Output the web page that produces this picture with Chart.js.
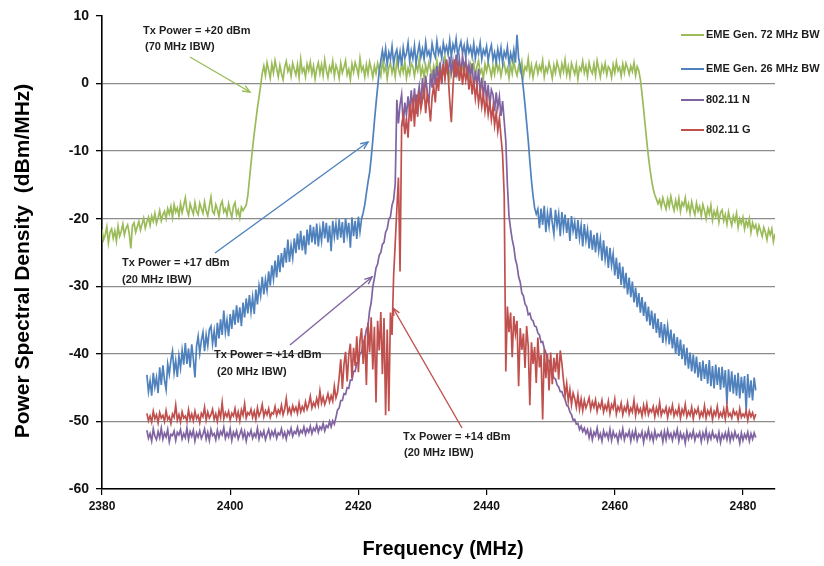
<!DOCTYPE html>
<html>
<head>
<meta charset="utf-8">
<script src="https://cdn.jsdelivr.net/npm/chart.js@4/dist/chart.umd.min.js"></script>
<style>
html,body{margin:0;padding:0;background:#fff;}
canvas{display:block;}
</style>
</head>
<body>
<canvas id="c" width="824" height="566"></canvas>
<script>
// ---------------- DATA ----------------
const X_TICKS = [2380, 2400, 2420, 2440, 2460, 2480];
const Y_TICKS = [10, 0, -10, -20, -30, -40, -50, -60];
const SERIES_NAMES = ['EME Gen. 72 MHz BW', 'EME Gen. 26 MHz BW', '802.11 N', '802.11 G'];
const SAMPLE_STEP = 0.25;     // MHz between samples
const GREEN_START = 2380;     // MHz of first green sample
const OTHER_START = 2387;     // MHz of first sample of the other three traces

// EME Gen. 72 MHz BW (dBm/MHz), 2380 .. 2485 MHz
const eme72 = [
 -21.6,-23.1,-22.4,-21.2,-23.6,-22.0,-21.5,-22.9,-21.8,-23.3,
 -21.1,-22.6,-21.9,-20.8,-22.4,-21.4,-20.9,-22.2,-24.4,-21.0,
 -20.6,-22.0,-21.2,-20.4,-21.7,-20.8,-19.9,-21.4,-20.5,-19.8,
 -21.0,-19.6,-20.4,-19.2,-20.7,-19.9,-18.8,-20.3,-19.4,-18.9,
 -20.0,-18.5,-19.3,-18.2,-19.8,-17.9,-19.0,-18.4,-19.6,-17.8,
 -19.1,-18.0,-16.9,-18.7,-19.5,-17.8,-18.6,-19.3,-17.6,-18.9,
 -19.4,-17.7,-18.5,-19.2,-17.5,-18.8,-19.6,-18.1,-16.8,-18.9,
 -19.3,-17.9,-18.6,-19.7,-18.0,-17.4,-19.0,-18.5,-19.5,-17.8,
 -18.9,-19.8,-18.2,-17.6,-19.4,-18.7,-19.9,-18.3,-18.8,-18.4,
 -18.0,-16.6,-14.2,-11.8,-9.5,-7.4,-5.5,-3.6,-2.0,-0.3,1.5,
 2.6,1.2,3.1,2.0,0.8,2.9,1.6,3.4,2.2,1.0,
 2.7,1.5,0.6,2.4,3.3,1.8,2.5,1.1,3.0,2.1,
 1.3,2.8,0.9,3.6,1.7,2.3,1.0,2.9,1.9,3.2,
 1.4,2.6,0.7,2.2,3.1,1.5,2.8,1.2,3.5,2.0,
 0.9,2.5,1.8,3.3,1.1,2.7,2.0,0.8,3.0,1.6,
 2.4,3.4,1.3,2.1,0.6,2.9,1.7,3.1,2.3,1.2,
 3.7,1.9,2.5,1.0,2.8,1.4,3.2,2.2,0.9,2.6,
 1.5,3.0,2.0,1.1,3.3,1.8,2.6,0.7,2.4,3.1,
 1.6,2.7,1.0,3.5,2.1,1.3,2.9,1.7,3.2,0.8,
 2.3,1.4,3.0,2.5,1.1,2.8,1.9,3.6,1.2,2.4,
 0.9,2.7,1.6,3.1,2.2,1.0,2.6,1.5,3.4,1.8,
 2.9,1.2,2.5,4.1,1.7,2.3,0.8,3.0,1.9,2.6,
 1.3,3.3,2.0,1.1,2.7,1.6,3.2,2.4,0.9,2.8,
 1.7,3.0,1.2,2.5,3.4,1.5,2.1,0.7,2.9,1.8,
 3.1,2.2,1.0,2.6,1.4,3.5,1.9,2.7,1.1,2.4,
 3.0,1.6,2.3,0.8,2.8,1.5,3.3,2.0,1.2,2.6,
 1.8,3.2,1.1,2.5,2.0,3.7,1.4,2.7,0.9,2.2,
 3.0,1.5,2.6,1.9,3.4,1.0,2.4,1.7,3.1,2.1,
 0.8,2.7,1.6,3.2,2.3,1.2,2.9,1.8,3.5,1.3,
 2.5,1.0,3.0,2.2,1.4,2.8,0.7,2.4,1.9,3.3,
 1.6,2.6,1.1,3.1,2.0,1.5,2.9,1.2,3.4,2.2,
 1.0,2.7,1.8,3.0,1.3,2.5,2.1,0.9,2.8,1.6,
 3.2,1.9,2.4,1.1,2.9,1.6,3.0,2.3,1.4,2.6,
 1.8,3.1,1.2,2.5,1.9,
 0.6,-1.5,-3.8,-6.2,-8.6,-10.8,-12.7,-14.3,-15.6,-16.5,-17.1,-17.8,-17.2,
 -18.3,-16.9,-17.8,-18.6,-17.1,-18.2,-16.7,-17.9,-18.8,-17.3,
 -18.4,-17.0,-18.9,-17.6,-18.1,-16.9,-18.7,-17.8,-19.2,-17.5,
 -18.6,-19.4,-17.7,-18.9,-18.2,-19.6,-17.9,-18.8,-20.0,-18.4,
 -19.3,-18.0,-20.2,-18.9,-19.7,-18.6,-20.5,-19.1,-18.7,-20.3,
 -19.4,-20.8,-19.0,-20.1,-21.0,-19.6,-20.4,-19.2,-21.3,-20.0,
 -20.7,-19.8,-21.5,-20.3,-21.1,-20.0,-22.0,-20.6,-21.4,-20.9,
 -22.2,-21.0,-21.8,-22.6,-21.3,-22.0,-23.1,-21.6,-22.4,-21.5,
 -23.4,-22.2
];

// EME Gen. 26 MHz BW, 2387 .. 2482 MHz
const eme26 = [
 -43.1,-45.6,-44.0,-46.2,-42.8,-44.9,-43.5,-45.8,
 -42.0,-44.6,-41.7,-43.9,-45.3,-41.5,-43.0,-40.9,
 -39.6,-42.8,-41.0,-43.4,-40.3,-42.1,-39.5,-41.6,
 -38.4,-41.5,-39.2,-42.0,-38.6,-40.7,-43.5,-38.9,
 -37.4,-39.9,-38.0,-36.8,-39.6,-37.2,-38.8,-36.4,
 -35.9,-38.5,-36.6,-39.0,-35.4,-37.7,-34.9,-37.2,
 -33.6,-36.8,-35.0,-37.4,-34.1,-36.3,-33.5,-35.7,
 -32.8,-35.4,-33.1,-35.9,-32.4,-34.6,-31.8,-34.0,
 -31.3,-33.8,-31.6,-34.1,-30.5,-32.7,-29.9,-31.4,
 -28.6,-31.2,-29.0,-30.6,-27.8,-29.9,-26.9,-28.9,
 -26.2,-28.7,-25.4,-27.9,-25.1,-27.2,-24.3,-26.5,
 -23.1,-26.4,-24.0,-25.8,-22.9,-25.1,-22.2,-24.6,
 -21.8,-24.7,-22.5,-25.3,-21.6,-23.9,-20.9,-23.5,
 -21.2,-23.8,-20.7,-24.1,-21.5,-23.3,-20.4,-22.9,
 -20.6,-23.5,-21.0,-24.8,-20.3,-22.7,-20.8,-23.1,
 -20.1,-22.8,-20.5,-23.6,-19.9,-22.4,-20.6,-24.3,
 -19.8,-22.6,-20.3,-23.0,-19.7,-21.9,-20.0,-19.1,
 -17.9,-16.2,-14.6,-13.2,-11.0,-8.4,-5.6,-3.0,-0.6,1.8,3.4,4.9,
 3.4,5.2,2.8,4.6,3.6,5.5,2.9,4.3,
 5.0,3.1,4.7,2.6,5.3,3.8,4.4,6.0,
 3.3,4.9,3.7,5.6,3.0,4.5,5.8,3.9,
 5.1,3.6,6.1,4.2,4.8,3.5,5.9,4.6,
 3.9,6.3,4.4,5.2,3.8,6.0,4.7,5.5,
 4.3,6.4,4.0,5.8,4.9,6.6,4.1,5.3,
 6.2,4.5,5.6,3.9,6.1,4.6,5.4,4.0,
 5.9,3.7,5.2,4.4,6.0,3.6,5.0,4.3,
 5.5,3.4,4.8,5.7,3.5,4.6,3.2,5.1,
 3.6,5.3,3.0,4.7,3.9,5.4,2.9,4.5,
 3.4,5.0,3.1,7.2,3.8,2.6,
 1.2,-0.8,-3.2,-5.8,-8.4,-11.5,-14.3,-16.6,-18.4,-19.3,-18.6,
 -21.4,-18.5,-20.9,-18.1,-22.0,-19.2,-21.1,-18.4,
 -20.6,-22.3,-18.7,-21.0,-19.3,-22.6,-19.0,-21.5,
 -19.4,-22.1,-20.0,-23.3,-19.6,-21.8,-20.5,-23.0,
 -20.2,-22.9,-21.0,-24.1,-20.8,-23.2,-21.6,-24.4,
 -21.7,-24.6,-22.4,-25.0,-22.1,-24.8,-23.0,-26.2,
 -23.2,-26.0,-24.1,-27.3,-24.3,-26.9,-25.2,-28.4,
 -25.8,-28.9,-26.5,-29.8,-27.1,-30.3,-28.0,-31.2,
 -28.7,-31.6,-29.3,-32.4,-30.2,-33.1,-31.0,-33.9,
 -31.6,-34.4,-32.3,-35.2,-33.0,-35.8,-33.6,-36.3,
 -34.0,-36.9,-34.8,-37.6,-35.3,-38.4,-35.6,-37.9,
 -35.9,-38.6,-36.4,-39.2,-37.0,-40.0,-37.5,-40.3,
 -37.9,-40.8,-38.6,-41.7,-39.1,-42.2,-39.8,-42.6,
 -40.1,-42.9,-40.4,-43.5,-41.2,-44.0,-41.0,-43.7,
 -41.5,-44.4,-40.9,-44.8,-41.8,-45.1,-41.6,-44.6,
 -42.0,-45.3,-41.9,-45.0,-42.4,-47.4,-42.3,-45.6,
 -42.6,-45.9,-43.1,-46.2,-42.8,-46.6,-43.4,-45.8,
 -43.3,-48.3,-43.0,-46.5,-43.9,-46.9,-43.5,-45.4
];

// 802.11 N, 2387 .. 2482 MHz
const wifiN = [
 -51.3,-52.5,-51.8,-52.9,-51.1,-52.2,-52.7,-51.5,-52.4,-51.0,
 -52.6,-51.7,-52.3,-51.2,-53.0,-51.9,-52.1,-51.4,-52.8,-51.6,
 -52.0,-51.2,-52.6,-51.8,-52.4,-51.0,-52.7,-51.5,-52.2,-51.3,
 -52.9,-51.7,-52.3,-51.4,-52.5,-51.9,-51.1,-52.6,-51.6,-52.8,
 -51.2,-52.1,-51.8,-52.7,-51.3,-52.4,-51.5,-52.0,-50.9,-52.5,
 -51.7,-52.3,-51.1,-52.8,-51.6,-52.2,-51.4,-52.6,-51.9,-51.2,
 -52.4,-51.5,-52.9,-51.7,-52.1,-51.3,-52.5,-51.8,-52.3,-51.0,
 -52.6,-51.6,-52.2,-51.4,-52.7,-51.9,-51.2,-52.4,-51.5,-52.1,
 -51.3,-52.5,-51.7,-52.0,-51.1,-52.3,-51.6,-52.6,-51.4,-51.9,
 -51.0,-52.2,-51.5,-51.8,-50.9,-52.0,-51.3,-51.7,-50.8,-51.9,
 -51.1,-51.6,-50.7,-51.8,-51.0,-51.4,-50.5,-51.6,-50.8,-51.2,
 -50.3,-51.4,-50.6,-50.9,-50.0,-50.8,-49.9,-50.4,
 -49.4,-48.3,-48.0,-46.9,-46.9,-45.9,-46.0,-45.0,-45.1,-43.9,
 -43.9,-42.6,-42.6,-41.3,-41.3,-39.9,-39.8,-38.4,-37.8,-36.4,
 -35.8,-33.6,-32.4,-30.1,-28.8,-27.3,-26.7,-25.4,-25.0,-23.8,
 -23.5,-22.0,-21.5,-20.1,-19.7,-18.0,-17.2,-14.8,
 -2.4,-5.9,-3.1,-1.6,-6.3,-2.8,-4.7,-1.9,
 -4.2,-1.0,-3.8,-0.7,-4.5,-2.0,-0.4,-3.2,
 0.8,-2.3,1.2,-1.4,-3.0,1.5,-0.6,2.1,
 -0.2,2.6,0.4,3.1,-0.1,2.9,1.0,3.6,
 1.2,4.0,1.6,3.3,0.9,4.3,1.8,3.7,
 1.5,4.1,2.2,3.4,0.6,2.8,1.1,3.0,
 -0.8,1.9,-0.3,2.2,-1.5,0.9,-2.0,0.4,
 -2.6,-0.2,-3.3,-0.9,-1.6,-4.1,-1.3,-3.6,
 -1.9,-4.8,-2.6,-5.5,
 -8.5,-15.0,-19.6,-21.5,-23.1,-24.2,-26.0,-26.9,-28.6,-29.4,
 -31.0,-31.4,-32.6,-33.0,-34.2,-34.0,-34.9,-35.1,-35.9,-36.0,
 -36.9,-37.2,-38.3,-38.2,-39.2,-39.8,-40.9,-41.0,-42.0,-42.6,
 -43.6,-43.7,-44.6,-44.9,-45.6,-45.6,-46.3,-46.7,-47.6,-47.8,
 -48.6,-49.0,-49.8,-49.7,-50.4,-50.3,-51.2,-50.7,-51.5,-51.0,
 -51.8,-51.2,
 -52.4,-51.3,-52.7,-51.6,-52.1,-51.0,-52.5,-51.8,-52.9,-51.4,
 -52.2,-51.7,-52.6,-51.2,-52.8,-51.5,-52.3,-51.9,-53.0,-51.6,
 -52.4,-51.1,-52.7,-51.8,-52.2,-51.4,-52.9,-51.6,-52.5,-51.3,
 -52.8,-51.9,-52.3,-51.5,-53.1,-51.7,-52.4,-51.2,-52.6,-51.8,
 -52.9,-51.4,-52.5,-51.9,-52.2,-51.6,-53.0,-51.5,-52.7,-51.3,
 -52.4,-51.8,-52.8,-51.6,-52.3,-51.2,-52.9,-51.7,-52.5,-51.9,
 -53.2,-51.5,-52.6,-51.8,-52.4,-51.4,-52.8,-51.9,-52.3,-51.6,
 -53.0,-51.7,-52.5,-51.3,-52.9,-51.8,-52.6,-51.5,-52.4,-52.0,
 -52.8,-51.6,-53.1,-51.9,-52.5,-51.7,-52.7,-51.4,-52.9,-51.8,
 -52.6,-51.5,-52.4,-52.0,-53.2,-51.7,-52.8,-51.9,-52.5,-51.6,
 -52.9,-51.8,-52.6,-51.7,-52.4
];

// 802.11 G, 2387 .. 2482 MHz
const wifiG = [
 -48.8,-49.9,-49.2,-50.1,-48.5,-49.6,-49.0,-50.2,-48.7,-49.5,
 -49.1,-50.0,-48.4,-49.7,-49.3,-50.3,-48.9,-49.4,-47.6,-49.8,
 -49.0,-50.1,-48.6,-49.5,-49.2,-50.0,-48.3,-49.7,-48.9,-49.9,
 -48.5,-49.6,-49.1,-50.2,-48.8,-49.3,-47.9,-49.8,-48.6,-49.5,
 -49.0,-48.2,-49.7,-48.9,-50.0,-48.4,-49.4,-47.2,-49.6,-48.7,
 -49.3,-48.5,-49.8,-48.8,-49.2,-48.1,-49.6,-48.6,-49.9,-48.3,
 -49.1,-47.4,-49.5,-48.7,-49.0,-48.2,-49.4,-48.5,-49.7,-48.0,
 -49.2,-48.6,-47.5,-49.3,-48.4,-49.0,-48.1,-49.4,-48.7,-48.9,
 -47.8,-49.1,-48.3,-48.8,-47.6,-49.0,-48.2,-46.6,-48.7,-48.0,
 -48.9,-47.7,-48.5,-47.9,-48.8,-47.3,-48.6,-47.8,-48.4,-47.1,
 -48.2,-47.5,-46.3,-48.0,-47.2,-47.8,-46.6,-47.6,-45.5,-47.3,
 -46.4,-47.5,-46.8,-45.9,-47.1,-46.2,-47.0,-44.8,-46.5,-45.7,
 -43.5,-40.8,-45.2,-41.6,-39.7,-44.1,-40.2,-38.5,-43.6,-39.1,
 -41.8,-37.4,-42.7,-38.0,-36.2,-41.5,-37.3,-44.6,-35.4,-39.8,
 -34.6,-42.3,-36.0,-47.2,-35.1,-39.5,-33.8,-43.0,-34.7,-49.1,
 -36.4,-48.5,-33.9,-37.2,-28.4,-23.6,
 -18.6,-13.9,-27.8,-6.2,
 -4.6,-7.5,-5.1,-8.0,
 -3.0,-5.6,-2.2,-6.4,
 -1.6,-4.9,-1.2,-3.8,
 -2.4,-0.7,-4.4,-1.5,
 -3.1,-5.6,-2.0,-0.4,
 -2.8,0.9,-1.1,2.2,
 0.1,2.9,0.8,3.4,
 1.2,-2.5,-5.7,-0.8,
 3.6,1.0,3.2,0.4,
 2.6,-0.2,2.3,0.5,
 1.9,-0.9,1.2,-1.6,
 0.6,-2.2,-0.3,-2.9,
 -1.0,-3.4,-1.6,-4.1,
 -2.2,-4.6,-2.8,-5.3,
 -3.5,-6.2,-4.3,-7.0,
 -5.1,-7.9,-10.5,
 -16.5,-42.6,-33.0,-36.8,-33.9,-40.5,-34.4,-37.0,-35.1,
 -44.8,-36.2,-39.4,-37.0,-42.1,-35.9,-38.8,-47.6,-38.3,-41.5,
 -39.0,-44.3,-37.6,-42.0,-40.1,-49.7,-39.3,-43.6,-40.0,-45.4,
 -39.8,-44.5,-40.6,-42.7,-39.9,-43.8,-39.5,-41.4,-43.9,-46.2,
 -44.4,-47.0,-45.3,-47.5,-45.8,-46.6,-47.9,-46.1,-48.2,-46.7,
 -48.4,-46.9,-48.0,-47.3,
 -46.5,-48.2,-47.1,-47.9,-46.8,-48.5,-47.4,-48.0,-46.9,-48.6,
 -47.6,-48.3,-47.0,-48.8,-47.5,-48.1,-46.7,-48.9,-47.8,-48.4,
 -47.3,-49.0,-47.9,-48.5,-47.2,-48.9,-48.0,-48.6,-46.9,-49.1,
 -47.7,-48.7,-48.1,-49.2,-47.6,-48.8,-47.4,-49.0,-48.2,-48.6,
 -47.8,-49.3,-48.0,-48.9,-47.2,-49.1,-48.3,-48.7,-47.9,-49.4,
 -48.1,-48.8,-47.6,-49.2,-48.4,-49.0,-47.8,-49.5,-48.2,-48.9,
 -47.5,-49.3,-48.5,-49.1,-47.9,-49.6,-48.3,-48.8,-48.0,-49.4,
 -48.6,-49.2,-47.7,-49.5,-48.4,-49.0,-48.1,-49.7,-48.5,-49.1,
 -47.8,-49.4,-48.7,-49.3,-48.2,-49.6,-47.6,-49.2,-48.8,-49.5,
 -48.3,-49.0,-48.6,-49.7,-48.1,-49.4,-48.9,-49.3,-48.4,-49.8,
 -48.5,-49.3,-48.7,-49.6,-48.9
];

// annotation texts
const NOTE_LINES = [
  ['Tx Power = +20 dBm', '(70 MHz IBW)'],
  ['Tx Power = +17 dBm', '(20 MHz IBW)'],
  ['Tx Power = +14 dBm', '(20 MHz IBW)'],
  ['Tx Power = +14 dBm', '(20 MHz IBW)']
];
// ---------------------------------------------------------------

const COLORS = ['#9bbb59', '#4f81bd', '#8064a2', '#c0504d'];
const toPts = (arr, start) => arr.map((v, i) => ({ x: start + i * SAMPLE_STEP, y: v }));
const seriesVals = [eme72, eme26, wifiN, wifiG];
const seriesStart = [GREEN_START, OTHER_START, OTHER_START, OTHER_START];

const datasets = seriesVals.map((vals, k) => ({
  label: SERIES_NAMES[k],
  data: toPts(vals, seriesStart[k]),
  borderColor: COLORS[k],
  backgroundColor: COLORS[k],
  borderWidth: 1.7,
  pointRadius: 0,
  tension: 0,
  order: 3 - k
}));

const LABEL_FONT = '"Liberation Sans", Arial, sans-serif';

// layout of overlay items (pixels)
const notePos = [
  { x: 143, y: 31, x2: 145, y2: 47, from: [190, 57], to: [250, 92] },
  { x: 122, y: 263, x2: 122, y2: 280, from: [215, 253], to: [368, 142] },
  { x: 214, y: 355, x2: 217, y2: 372, from: [290, 345], to: [372, 277] },
  { x: 403, y: 437, x2: 404, y2: 453, from: [462, 428], to: [393, 308] }
];
const legendY = [35, 69, 100, 130];

function arrow(ctx, from, to, color) {
  ctx.save();
  ctx.strokeStyle = color;
  ctx.lineWidth = 1.4;
  ctx.beginPath();
  ctx.moveTo(from[0], from[1]);
  ctx.lineTo(to[0], to[1]);
  ctx.stroke();
  const a = Math.atan2(to[1] - from[1], to[0] - from[0]);
  const L = 8, w = 0.4;
  ctx.beginPath();
  ctx.moveTo(to[0] - L * Math.cos(a - w), to[1] - L * Math.sin(a - w));
  ctx.lineTo(to[0], to[1]);
  ctx.lineTo(to[0] - L * Math.cos(a + w), to[1] - L * Math.sin(a + w));
  ctx.stroke();
  ctx.restore();
}

const overlay = {
  id: 'overlay',
  afterDraw(chart) {
    const ctx = chart.ctx;
    ctx.save();
    ctx.fillStyle = '#1e1e1e';
    ctx.font = 'bold 11px ' + LABEL_FONT;
    ctx.textBaseline = 'middle';
    ctx.textAlign = 'left';
    NOTE_LINES.forEach((lines, i) => {
      const p = notePos[i];
      ctx.fillText(lines[0], p.x, p.y);
      ctx.fillText(lines[1], p.x2, p.y2);
      arrow(ctx, p.from, p.to, COLORS[i]);
    });
    chart.data.datasets.forEach((ds, i) => {
      const y = legendY[i];
      ctx.strokeStyle = ds.borderColor;
      ctx.lineWidth = 2;
      ctx.beginPath();
      ctx.moveTo(681, y);
      ctx.lineTo(704, y);
      ctx.stroke();
      ctx.fillStyle = '#1e1e1e';
      ctx.font = 'bold 11px ' + LABEL_FONT;
      ctx.fillText(ds.label, 706, y);
    });
    ctx.fillStyle = '#000';
    ctx.font = 'bold 20px ' + LABEL_FONT;
    ctx.textAlign = 'center';
    ctx.fillText('Frequency (MHz)', 443, 549);
    ctx.translate(23, 261);
    ctx.rotate(-Math.PI / 2);
    ctx.font = 'bold 21px ' + LABEL_FONT;
    ctx.fillText('Power Spectral Density  (dBm/MHz)', 0, 0);
    ctx.restore();
  }
};

new Chart(document.getElementById('c'), {
  type: 'line',
  data: { datasets },
  options: {
    responsive: false,
    animation: false,
    devicePixelRatio: 1,
    layout: { padding: { top: 16, right: 49, left: 0, bottom: 0 } },
    plugins: { legend: { display: false }, tooltip: { enabled: false } },
    scales: {
      x: {
        type: 'linear',
        min: 2380,
        max: 2485,
        afterFit(s) { s.height = 77; },
        afterBuildTicks(s) { s.ticks = X_TICKS.map(v => ({ value: v })); },
        ticks: { font: { family: LABEL_FONT, size: 12, weight: 'bold' }, color: '#111', padding: 4, maxRotation: 0, callback: v => String(v) },
        grid: { drawOnChartArea: false, tickLength: 6, tickColor: '#000', lineWidth: 1.2 },
        border: { color: '#000', width: 1.6 }
      },
      y: {
        type: 'linear',
        min: -60,
        max: 10,
        afterFit(s) { s.width = 102; },
        afterBuildTicks(s) { s.ticks = Y_TICKS.map(v => ({ value: v })); },
        ticks: { font: { family: LABEL_FONT, size: 14, weight: 'bold' }, color: '#111', padding: 7, callback: v => String(v) },
        grid: {
          color: c => (c.tick && c.tick.value === 10) ? 'rgba(0,0,0,0)' : '#8c8c8c',
          lineWidth: 1.3, tickLength: 6, tickColor: '#000'
        },
        border: { color: '#000', width: 1.6 }
      }
    }
  },
  plugins: [overlay]
});
</script>
</body>
</html>
